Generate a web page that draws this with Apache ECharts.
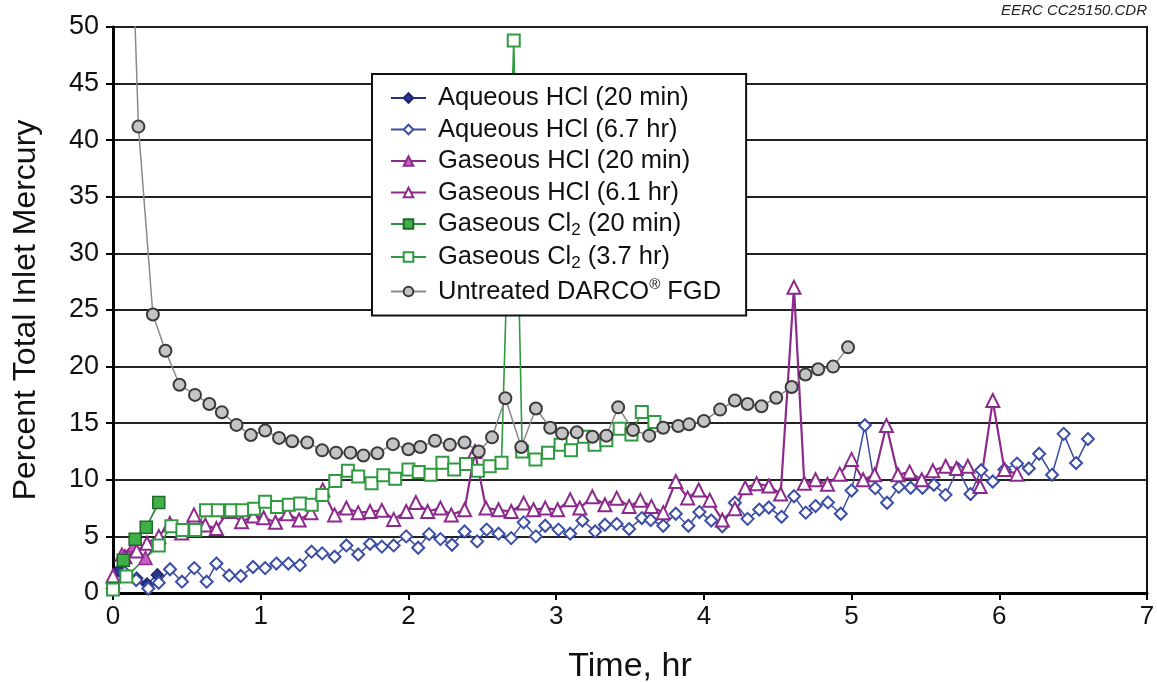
<!DOCTYPE html>
<html><head><meta charset="utf-8">
<script src="https://cdn.jsdelivr.net/npm/echarts@6/dist/echarts.min.js"></script>
<style>html,body{margin:0;padding:0;background:#fff}#c{width:1157px;height:682px}</style>
</head><body><div id="c"></div>
<script>
// ---- data (time in hr, percent of total inlet mercury) ----
const seriesNames = [
  'Aqueous HCl (20 min)', 'Aqueous HCl (6.7 hr)',
  'Gaseous HCl (20 min)', 'Gaseous HCl (6.1 hr)',
  'Gaseous Cl2 (20 min)', 'Gaseous Cl2 (3.7 hr)',
  'Untreated DARCO FGD'
];
const xTickMin = 0, xTickMax = 7, xTickStep = 1;
const yTickMin = 0, yTickMax = 50, yTickStep = 5;

const aq20T = [0, 0.04, 0.08, 0.16, 0.23, 0.3];
const aq20V = [0.5, 2.0, 1.5, 1.3, 0.8, 1.6];

const aq67T = [0,0.08,0.157,0.239,0.31,0.386,0.467,0.55,0.634,0.7,0.787,0.865,0.948,1.03,1.106,1.187,1.265,1.344,1.416,1.5,1.58,1.66,1.74,1.82,1.9,1.985,2.066,2.14,2.217,2.295,2.38,2.465,2.53,2.61,2.696,2.78,2.863,2.926,3.016,3.095,3.178,3.264,3.33,3.41,3.494,3.58,3.64,3.725,3.81,3.895,3.97,4.05,4.125,4.21,4.296,4.375,4.44,4.526,4.61,4.69,4.756,4.84,4.927,5.0,5.09,5.16,5.24,5.32,5.4,5.48,5.557,5.636,5.72,5.805,5.877,5.956,6.035,6.12,6.2,6.27,6.357,6.436,6.52,6.6];
const aq67V = [0.4,1.8,1.15,0.4,0.9,2.1,1.0,2.2,1.0,2.6,1.55,1.5,2.3,2.2,2.6,2.6,2.46,3.65,3.5,3.2,4.2,3.4,4.35,4.1,4.2,5.0,4.0,5.2,4.76,4.26,5.44,4.56,5.6,5.24,4.85,6.24,5.0,5.94,5.6,5.24,6.4,5.44,6.03,6.1,5.65,6.62,6.45,5.94,7.0,5.94,7.15,6.4,5.9,7.97,6.55,7.37,7.55,6.73,8.55,7.1,7.68,8.0,7.0,9.05,14.82,9.26,7.97,9.37,9.3,9.3,9.56,8.67,10.95,8.74,10.85,9.85,10.92,11.43,11.0,12.3,10.44,14.06,11.48,13.6];

const gh20T = [0, 0.06, 0.14, 0.22, 0.3];
const gh20V = [1.0, 3.4, 4.2, 3.1, 4.3];

const gh61T = [0,0.08,0.16,0.23,0.31,0.385,0.465,0.548,0.625,0.70,0.78,0.87,0.95,1.02,1.10,1.18,1.26,1.34,1.42,1.5,1.58,1.66,1.74,1.82,1.90,1.985,2.05,2.13,2.217,2.29,2.38,2.45,2.525,2.61,2.696,2.78,2.847,2.926,3.01,3.095,3.16,3.245,3.33,3.41,3.494,3.57,3.645,3.725,3.81,3.89,3.965,4.04,4.125,4.21,4.28,4.357,4.44,4.52,4.61,4.68,4.756,4.837,4.92,5.0,5.078,5.156,5.236,5.314,5.393,5.475,5.55,5.637,5.71,5.787,5.87,5.956,6.035,6.12];
const gh61V = [1.5,3.2,3.7,4.4,5.0,6.15,5.3,6.9,6.0,5.7,7.2,6.3,6.8,6.65,6.25,7.0,6.45,7.1,9.1,6.9,7.5,7.1,7.2,7.3,6.5,7.2,8.0,7.2,7.5,6.9,7.35,12.5,7.5,7.35,7.2,7.94,7.35,7.5,7.35,8.24,7.5,8.5,7.8,8.38,7.65,8.2,7.65,7.1,9.85,8.4,9.1,8.2,6.45,7.45,9.3,9.65,9.45,8.75,27.0,9.7,10.0,9.6,10.5,11.8,10.0,10.44,14.8,10.44,10.7,10.0,10.8,11.2,11.0,11.2,9.4,17.0,10.9,10.5];

const cl20T = [0, 0.07, 0.15, 0.225, 0.31];
const cl20V = [0.4, 2.9, 4.75, 5.8, 8.0];

const cl37T = [0,0.09,0.31,0.395,0.47,0.557,0.63,0.71,0.8,0.875,0.955,1.03,1.11,1.19,1.267,1.345,1.417,1.505,1.59,1.66,1.75,1.83,1.91,2.0,2.07,2.15,2.23,2.31,2.39,2.47,2.55,2.63,2.713,2.77,2.86,2.945,3.03,3.1,3.19,3.26,3.34,3.43,3.51,3.58,3.665];
const cl37V = [0.3,1.45,4.2,5.9,5.57,5.57,7.3,7.3,7.3,7.3,7.45,8.05,7.6,7.8,7.9,7.8,8.65,9.9,10.8,10.3,9.7,10.4,10.1,10.9,10.7,10.45,11.5,10.9,11.4,10.8,11.2,11.5,48.8,12.5,11.8,12.4,13.1,12.6,13.8,13.1,13.5,14.5,14.0,16.0,15.1];

const untT = [0.07,0.172,0.27,0.355,0.45,0.555,0.652,0.737,0.836,0.933,1.03,1.124,1.213,1.315,1.416,1.51,1.607,1.695,1.79,1.895,2.0,2.08,2.18,2.28,2.38,2.476,2.566,2.656,2.764,2.863,2.96,3.04,3.14,3.246,3.34,3.42,3.52,3.63,3.725,3.827,3.9,4.0,4.11,4.21,4.296,4.39,4.49,4.594,4.688,4.774,4.875,4.976];
const untV = [82,41.2,24.6,21.4,18.4,17.5,16.7,15.96,14.85,13.95,14.35,13.7,13.4,13.3,12.6,12.4,12.4,12.15,12.35,13.15,12.7,12.9,13.45,13.1,13.3,12.5,13.75,17.2,12.9,16.3,14.6,14.1,14.2,13.8,13.9,16.4,14.4,13.9,14.6,14.75,14.9,15.2,16.2,17.0,16.7,16.5,17.25,18.2,19.3,19.76,20.0,21.7];

// ---- build chart ----
const FONT = 'Liberation Sans, Arial, sans-serif';
function pairs(t, v) { return t.map((x, i) => [x, v[i]]); }
function mk(name, t, v, o) {
  return {
    name, type: 'line', data: pairs(t, v),
    symbol: o.symbol, symbolSize: o.size,
    showAllSymbol: true, animation: false,
    lineStyle: { color: o.line, width: o.lw },
    itemStyle: { color: o.fill, borderColor: o.border, borderWidth: o.bw },
    emphasis: { disabled: true }
  };
}
const series = [
  mk(seriesNames[0], aq20T, aq20V, { symbol: 'diamond', size: 12, line: '#2a2f80', fill: '#2a3590', border: '#1f2570', bw: 1.5, lw: 1.5 }),
  mk(seriesNames[1], aq67T, aq67V, { symbol: 'diamond', size: 12, line: '#3b4a9e', fill: '#ffffff', border: '#3b4ea6', bw: 2, lw: 1.5 }),
  mk(seriesNames[2], gh20T, gh20V, { symbol: 'triangle', size: 13, line: '#8c2d8c', fill: '#c45fc4', border: '#8c2d8c', bw: 1.5, lw: 1.8 }),
  mk(seriesNames[3], gh61T, gh61V, { symbol: 'triangle', size: 13, line: '#8c2a8c', fill: '#ffffff', border: '#8c2a8c', bw: 2, lw: 2.2 }),
  mk(seriesNames[4], cl20T, cl20V, { symbol: 'rect', size: 12, line: '#2c8e3a', fill: '#3faf48', border: '#1e6a28', bw: 1.5, lw: 1.8 }),
  mk(seriesNames[5], cl37T, cl37V, { symbol: 'rect', size: 12, line: '#2f9a40', fill: '#ffffff', border: '#2f9a40', bw: 2, lw: 1.6 }),
  mk(seriesNames[6], untT, untV, { symbol: 'circle', size: 12, line: '#8a8a8a', fill: '#c4c4c4', border: '#3a3a3a', bw: 2, lw: 1.5 })
];

const legendRich = {
  g: { width: 7 },
  n: { fontSize: 25.5, lineHeight: 29, fontFamily: FONT, color: '#111' },
  s: { fontSize: 17, lineHeight: 17, verticalAlign: 'bottom', fontFamily: FONT, color: '#111' },
  u: { fontSize: 15, lineHeight: 15, verticalAlign: 'top', fontFamily: FONT, color: '#111' }
};
function legendFmt(name) {
  if (name.indexOf('Cl2') >= 0) {
    const parts = name.split('Cl2');
    return '{g|}{n|' + parts[0] + 'Cl}{s|2}{n|' + parts[1] + '}';
  }
  if (name.indexOf('DARCO') >= 0) {
    return '{g|}{n|Untreated DARCO}{u|®}{n| FGD}';
  }
  return '{g|}{n|' + name + '}';
}

const chart = echarts.init(document.getElementById('c'), null, { renderer: 'canvas' });
chart.setOption({
  backgroundColor: '#ffffff',
  animation: false,
  grid: { left: 113, right: 10, top: 27, bottom: 89, outerBoundsMode: 'none', containLabel: false,
          show: true, borderColor: '#111', borderWidth: 2, backgroundColor: 'transparent' },
  xAxis: {
    type: 'value', min: xTickMin, max: xTickMax, interval: xTickStep,
    name: 'Time, hr', nameLocation: 'middle', nameGap: 57,
    nameTextStyle: { fontFamily: FONT, fontSize: 34, color: '#111' },
    axisLine: { show: true, onZero: false, lineStyle: { color: '#000', width: 3 } },
    axisTick: { show: true, length: 7, lineStyle: { color: '#000', width: 2 } },
    axisLabel: { fontFamily: FONT, fontSize: 26, color: '#111', margin: 11 },
    splitLine: { show: false }
  },
  yAxis: {
    type: 'value', min: yTickMin, max: yTickMax, interval: yTickStep,
    name: 'Percent Total Inlet Mercury', nameLocation: 'middle', nameGap: 71, nameRotate: 90,
    nameTextStyle: { fontFamily: FONT, fontSize: 32, color: '#111' },
    axisLine: { show: true, onZero: false, lineStyle: { color: '#000', width: 3 } },
    axisTick: { show: true, length: 7, lineStyle: { color: '#000', width: 2 } },
    axisLabel: { fontFamily: FONT, fontSize: 27, color: '#111', margin: 14 },
    splitLine: { show: true, lineStyle: { color: '#222', width: 2 } }
  },
  legend: {
    data: seriesNames, orient: 'vertical', left: 372, top: 74,
    padding: [11, 25, 11, 18], itemGap: 5.5, itemWidth: 35, itemHeight: 12,
    backgroundColor: '#ffffff', borderColor: '#111', borderWidth: 2,
    selectedMode: false,
    textStyle: { fontFamily: FONT, fontSize: 25.5, color: '#111', rich: legendRich },
    formatter: legendFmt
  },
  graphic: [{
    type: 'text', right: 10, top: 3,
    style: { text: 'EERC CC25150.CDR', font: 'italic 15px Liberation Sans', fill: '#222' }
  }],
  series
});
</script></body></html>
